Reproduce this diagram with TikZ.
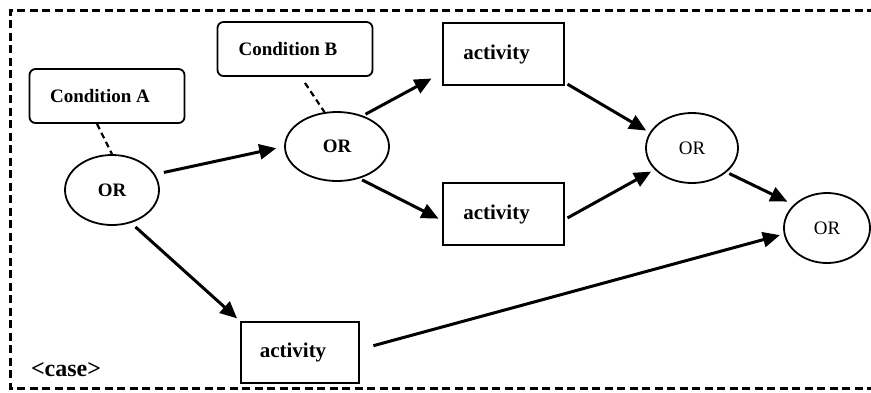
\documentclass[tikz,border=0pt]{standalone}
\usepackage{fontspec}
\setmainfont{Liberation Serif}
\usetikzlibrary{arrows.meta,shapes.geometric}
\begin{document}
\begin{tikzpicture}[x=1pt,y=-1pt,
  cond/.style={draw,line width=1.8pt,rounded corners=6pt,minimum width=155pt,minimum height=54pt,
    font=\fontsize{19}{21}\selectfont\bfseries,execute at end node={\hspace*{14pt}}},
  actbox/.style={draw,line width=1.8pt,minimum width=121pt,minimum height=62pt,
    font=\fontsize{21}{23}\selectfont\bfseries,execute at end node={\hspace*{14pt}}},
  gate/.style={draw,ellipse,line width=1.8pt,inner sep=0pt,font=\fontsize{19}{21}\selectfont},
  flow/.style={-{Triangle[length=17pt,width=15pt]},line width=3pt,shorten <=3pt,shorten >=4pt},
  link/.style={line width=2.2pt,dash pattern=on 6pt off 4pt}]
\useasboundingbox (0,0) rectangle (871,392);
% dashed frame of the case block
\draw[line width=3pt,dash pattern=on 8pt off 4.5pt] (875,10) -- (10,10) -- (10,388) -- (875,388);
\node[font=\fontsize{24}{26}\selectfont\bfseries] (caselbl) at (66,370) {<case>};

% conditions
\node[cond] (condA) at (107,96) {Condition A};
\node[cond] (condB) at (295,49) {Condition B};

% OR gates
\node[gate,minimum width=94pt,minimum height=70pt,font=\fontsize{19}{21}\selectfont\bfseries] (or1) at (112,190) {OR};
\node[gate,minimum width=104pt,minimum height=69pt,font=\fontsize{19}{21}\selectfont\bfseries] (or2) at (337,146.5) {OR};
\node[gate,minimum width=92pt,minimum height=70pt] (or3) at (692,148) {OR};
\node[gate,minimum width=86pt,minimum height=70pt] (or4) at (827,228) {OR};

% activities
\node[actbox] (actT) at (503.5,54) {activity};
\node[actbox] (actM) at (503.5,214) {activity};
\node[actbox,minimum width=118pt,minimum height=61pt] (actB) at (300,352.5) {activity};

% condition links
\draw[link] (condA.south) ++(-10,0) coordinate (ca) (ca) -- (or1.north);
\draw[link] (condB.south) ++(10,6) coordinate (cb) (cb) -- (or2.110);

% flow
\draw[flow,shorten <=9pt,shorten >=8pt] (or1.20) -- (or2.west);
\draw[flow,shorten >=12pt] (or2.50) -- (actT.-163);
\draw[flow] (or2.-55) -- (actM.-174);
\draw[flow,shorten <=6pt] (or1.-60) -- (actB.north west);
\draw[flow] (actT.-25) -- (or3.160);
\draw[flow] (actM.-5) -- (or3.-150);
\draw[flow,shorten >=7pt] (or3.-35) -- (or4.145);
\draw[flow,shorten <=14pt] (actB.3) -- (or4.-172);
\end{tikzpicture}
\end{document}
